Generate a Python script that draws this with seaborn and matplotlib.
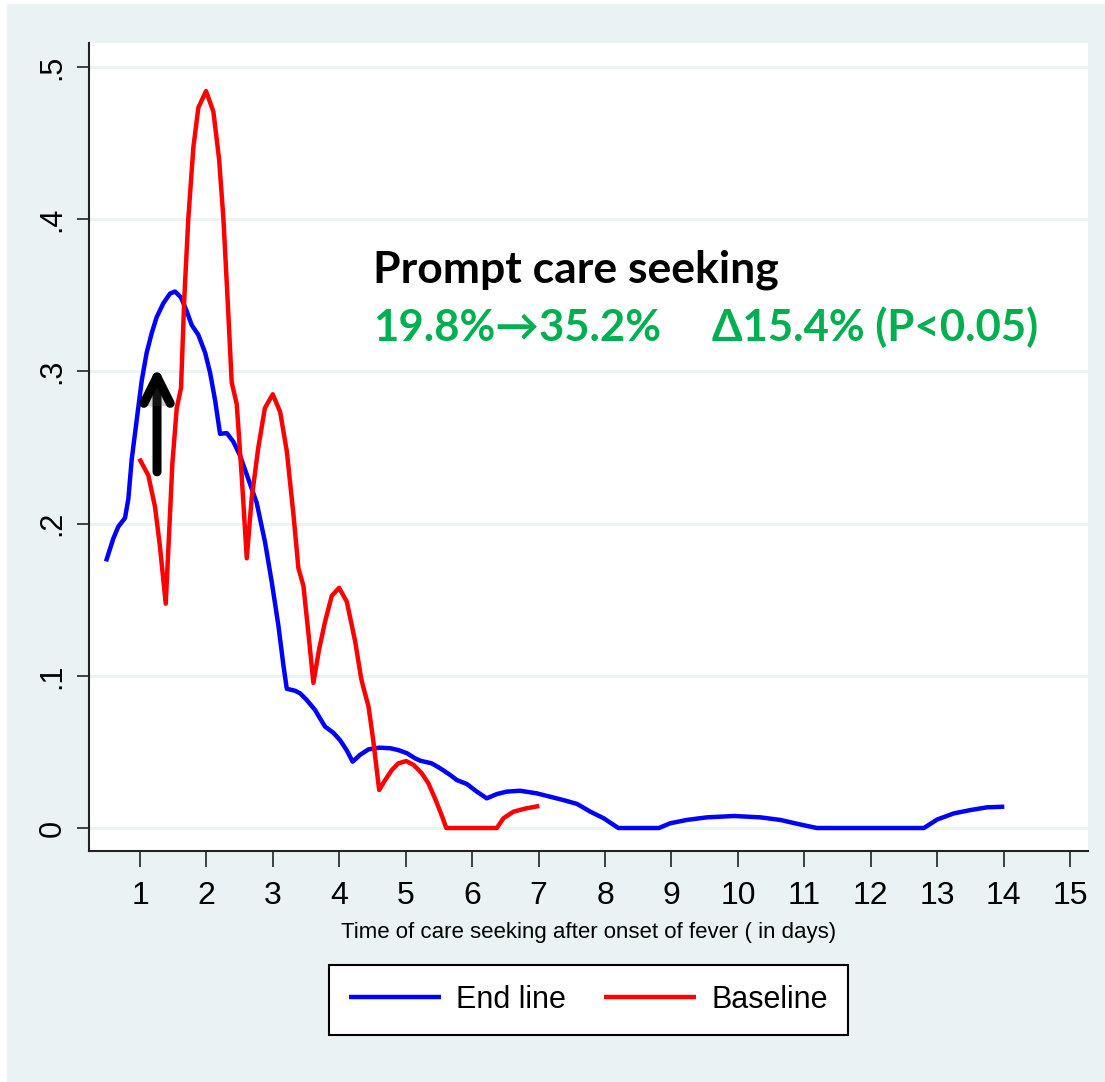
import numpy as np
import pandas as pd
import matplotlib
matplotlib.use("Agg")
import matplotlib.pyplot as plt
import matplotlib.patheffects as pe
from matplotlib import font_manager
from matplotlib.patches import Rectangle
import seaborn as sns

# ---------------- data ----------------
endline_day = [0.488, 0.598, 0.673, 0.774, 0.824, 0.875, 0.95, 1.026, 1.10, 1.176, 1.25, 1.35,
               1.452, 1.527, 1.617, 1.703, 1.778, 1.878, 1.98, 2.054, 2.13, 2.205, 2.306, 2.405,
               2.506, 2.631, 2.757, 2.883, 2.983, 3.083, 3.158, 3.209, 3.334, 3.41, 3.51, 3.636,
               3.71, 3.786, 3.91, 4.01, 4.11, 4.20, 4.31, 4.44, 4.61, 4.77, 4.89, 5.02, 5.14,
               5.22, 5.39, 5.52, 5.67, 5.77, 5.92, 6.07, 6.22, 6.37, 6.52, 6.72, 6.97, 7.17,
               7.37, 7.58, 7.78, 7.98, 8.2, 8.81, 8.98, 9.23, 9.53, 9.94, 10.34, 10.64, 10.91,
               11.19, 12.8, 13.0, 13.25, 13.5, 13.75, 14.01]
endline_val = [0.1752, 0.1902, 0.198, 0.2037, 0.2162, 0.2422, 0.2681, 0.294, 0.3123, 0.3252, 0.3356, 0.3447,
               0.3512, 0.3525, 0.3486, 0.3396, 0.3305, 0.324, 0.3123, 0.2993, 0.2811, 0.259, 0.2595, 0.2538,
               0.2447, 0.2292, 0.2136, 0.1876, 0.1616, 0.133, 0.1071, 0.0915, 0.0902, 0.0885, 0.0841, 0.0775,
               0.072, 0.0666, 0.0626, 0.0578, 0.0512, 0.0436, 0.048, 0.0517, 0.0528, 0.0524, 0.0512, 0.0491, 0.0458,
               0.0442, 0.0425, 0.0392, 0.0348, 0.0315, 0.0289, 0.0239, 0.0195, 0.0223, 0.0239, 0.0245, 0.0228, 0.0206,
               0.0184, 0.0158, 0.0107, 0.0064, 0.0, 0.0, 0.0031, 0.0053, 0.007, 0.0079, 0.007, 0.0053, 0.0026,
               0.0, 0.0, 0.0056, 0.0096, 0.0118, 0.0136, 0.014]

baseline_day = [0.99, 1.125, 1.226, 1.30, 1.387, 1.437, 1.487, 1.553, 1.617, 1.667, 1.727, 1.803,
                1.878, 1.994, 2.104, 2.19, 2.255, 2.32, 2.38, 2.456, 2.53, 2.607, 2.68, 2.78,
                2.88, 2.998, 3.11, 3.21, 3.31, 3.384, 3.46, 3.535, 3.61, 3.696, 3.786, 3.887,
                3.997, 4.113, 4.238, 4.33, 4.36, 4.44, 4.51, 4.57, 4.60, 4.69, 4.79, 4.89,
                5.006, 5.12, 5.24, 5.34, 5.44, 5.54, 5.61, 6.37, 6.47, 6.62, 6.80, 7.01]
baseline_val = [0.2427, 0.2317, 0.211, 0.185, 0.1474, 0.193, 0.2395, 0.276, 0.289, 0.3486, 0.4006, 0.4473,
                0.4733, 0.4842, 0.4707, 0.4395, 0.4006, 0.346, 0.2928, 0.2785, 0.2317, 0.1772, 0.2162, 0.2499,
                0.276, 0.285, 0.2733, 0.2474, 0.2058, 0.1708, 0.159, 0.1279, 0.0954, 0.1175, 0.1357, 0.1526,
                0.1578, 0.1487, 0.1227, 0.098, 0.0928, 0.0797, 0.0578, 0.036, 0.025, 0.0315, 0.0381, 0.0425,
                0.044, 0.0414, 0.036, 0.0294, 0.0195, 0.0085, 0.0, 0.0, 0.0064, 0.0107, 0.0128, 0.0145]

series_names = ["End line", "Baseline"]
series_colors = ["#0000FF", "#FF0000"]
x_ticks = list(range(1, 16))
y_ticks = [0, 0.1, 0.2, 0.3, 0.4, 0.5]
y_tick_labels = ["0", ".1", ".2", ".3", ".4", ".5"]
x_label = "Time of care seeking after onset of fever ( in days)"
title_text = "Prompt care seeking"
change_text = "19.8%\u219235.2%"
delta_text = "\u039415.4% (P<0.05)"

df = pd.concat([
    pd.DataFrame({"day": endline_day, "prop": endline_val, "group": series_names[0]}),
    pd.DataFrame({"day": baseline_day, "prop": baseline_val, "group": series_names[1]}),
], ignore_index=True)

# ---------------- fonts ----------------
sns.set_theme(style="white")
avail = {f.name for f in font_manager.fontManager.ttflist}
narrow = "Liberation Sans Narrow" if "Liberation Sans Narrow" in avail else "Liberation Sans"
plt.rcParams["font.family"] = [narrow, "DejaVu Sans"]
plt.rcParams["text.color"] = "black"
plt.rcParams["axes.labelcolor"] = "black"
big_font = ["Lato", "DejaVu Sans"]

W, H = 1105, 1082
fig = plt.figure(figsize=(W / 100, H / 100), dpi=100, facecolor="white")
fig.patches.append(Rectangle((7 / W, 0), 1 - 7 / W, 1 - 4 / H, transform=fig.transFigure,
                             facecolor="#EAF2F3", edgecolor="none", zorder=-10))

L, R, T, B = 89, 1088, 43, 851
ax = fig.add_axes([L / W, 1 - B / H, (R - L) / W, (B - T) / H])
ax.set_facecolor("white")

sns.lineplot(data=df, x="day", y="prop", hue="group", hue_order=series_names,
             palette=series_colors, estimator=None, sort=False, linewidth=3.2, ax=ax, zorder=3)
for ln in ax.get_lines():
    ln.set_solid_joinstyle("round")
    ln.set_solid_capstyle("butt")

ax.set_xlim(0.232, 15.27)
ax.set_ylim(-0.0151, 0.5158)
ax.set_xticks(x_ticks)
ax.set_xticklabels([str(t) for t in x_ticks], fontsize=23, family=[narrow, "DejaVu Sans"])
ax.set_yticks(y_ticks)
ax.set_yticklabels(y_tick_labels, fontsize=22, rotation=90, va="center",
                   family=["Liberation Sans", "DejaVu Sans"])
ax.tick_params(axis="x", length=11.5, width=1.2, pad=10, color="#222222", labelcolor="black",
               bottom=True)
ax.tick_params(axis="y", length=8.6, width=1.2, pad=7, color="#222222", labelcolor="black",
               left=True)
ax.grid(axis="y", color="#EAF2F3", linewidth=2.0, zorder=0)
ax.grid(axis="x", visible=False)
ax.set_axisbelow(True)
for s in ["top", "right"]:
    ax.spines[s].set_visible(False)
for s in ["left", "bottom"]:
    ax.spines[s].set_color("#222222")
    ax.spines[s].set_linewidth(1.5)

ax.set_xlabel(x_label, fontsize=16, labelpad=8, color="black", family=[narrow, "DejaVu Sans"])
ax.set_ylabel("")

# arrow
arr = ax.annotate("", xy=(1.256, 0.303), xytext=(1.256, 0.234),
                  arrowprops=dict(arrowstyle="->,head_length=1.9,head_width=0.95",
                                  mutation_scale=10, lw=6.5, color="black",
                                  capstyle="round", joinstyle="round",
                                  shrinkA=0, shrinkB=0), zorder=5)
arr.arrow_patch.set_path_effects([pe.withSimplePatchShadow(offset=(2, -2), alpha=0.25)])

# annotation texts
fig.text(373 / W, 1 - 282 / H, title_text, fontsize=32, fontweight="bold", color="black",
         family=big_font, ha="left", va="baseline")
fig.text(373 / W, 1 - 341 / H, change_text, fontsize=31.5, fontweight="bold", color="#00B050",
         family=big_font, ha="left", va="baseline")
fig.text(712 / W, 1 - 341 / H, delta_text, fontsize=31.5, fontweight="bold", color="#00B050",
         family=big_font, ha="left", va="baseline")

# legend
handles, labels = ax.get_legend_handles_labels()
if ax.get_legend() is not None:
    ax.get_legend().remove()
leg = fig.legend(handles, labels, loc="upper left", bbox_to_anchor=(329 / W, 1 - 965 / H),
                 ncol=2, frameon=True, fancybox=False, framealpha=1, edgecolor="black",
                 fontsize=22, handlelength=3.0, handletextpad=0.5, columnspacing=1.27,
                 borderpad=0.65, borderaxespad=0, labelcolor="black")
leg.get_frame().set_linewidth(1.5)
for line in leg.get_lines():
    line.set_linewidth(3.2)

fig.savefig("out.png", dpi=100, facecolor=fig.get_facecolor())
